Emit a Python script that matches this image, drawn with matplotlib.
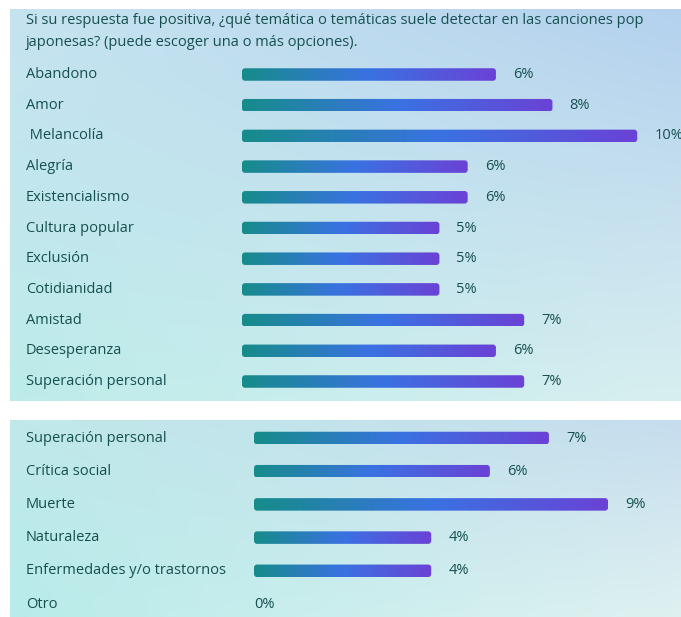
import numpy as np
import matplotlib.pyplot as plt
from matplotlib.colors import LinearSegmentedColormap, to_rgb
from matplotlib.patches import FancyBboxPatch
import matplotlib.transforms as mtransforms

plt.rcParams['font.family'] = ['Open Sans', 'DejaVu Sans']

# datos
titulo = ("Si su respuesta fue positiva, ¿qué temática o temáticas suele detectar en las canciones pop\n"
          "japonesas? (puede escoger una o más opciones).")
temas_1 = ["Abandono", "Amor", " Melancolía", "Alegría", "Existencialismo", "Cultura popular",
           "Exclusión", "Cotidianidad", "Amistad", "Desesperanza", "Superación personal"]
valores_1 = [6.38, 7.80, 9.93, 5.67, 5.67, 4.96, 4.96, 4.96, 7.09, 6.38, 7.09]
temas_2 = ["Superación personal", "Crítica social", "Muerte", "Naturaleza",
           "Enfermedades y/o trastornos", "Otro"]
valores_2 = [7.09, 5.67, 8.51, 4.26, 4.26, 0.0]

W, H = 681, 617
texto = '#15504f'
grad_barra = LinearSegmentedColormap.from_list('barra', ['#168c8a', '#3a72e2', '#6a42d6'])


def fondo(ax, c_tl, c_tr, c_bl, c_br):
    u = np.linspace(0, 1, 200)
    gx, gy = np.meshgrid(u, u)
    img = np.zeros((200, 200, 3))
    for c, w in [(c_tl, (1 - gx) * (1 - gy)), (c_tr, gx * (1 - gy)),
                 (c_bl, (1 - gx) * gy), (c_br, gx * gy)]:
        img += np.array(to_rgb(c)) * w[..., None]
    ax.imshow(img, extent=[0, 1, 0, 1], transform=ax.transAxes, aspect='auto', zorder=0)


def panel(rect_px, x0_px, px_per_pct, y0_px, row_px, temas, valores, label_px, colores):
    l, t, r, b = rect_px
    ax = fig.add_axes([l / W, 1 - b / H, (r - l) / W, (b - t) / H])
    ax.axis('off')
    fondo(ax, *colores)

    y = np.arange(len(temas))
    alto = 12.5 / row_px
    barras = ax.barh(y, valores, height=alto, color='none', edgecolor='none')
    grad = np.linspace(0, 1, 256).reshape(1, -1)
    radio = 3.0
    for barra in barras:
        x, yb = barra.get_x(), barra.get_y()
        w, h = barra.get_width(), barra.get_height()
        if w <= 0:
            continue
        clip = FancyBboxPatch((x, yb), w, h,
                              boxstyle=f"round,pad=0,rounding_size={radio / px_per_pct}",
                              mutation_aspect=px_per_pct / row_px,
                              facecolor='none', edgecolor='none')
        ax.add_patch(clip)
        im = ax.imshow(grad, cmap=grad_barra, extent=[x, x + w, yb + h, yb],
                       aspect='auto', zorder=2)
        im.set_clip_path(clip)

    tr = mtransforms.blended_transform_factory(ax.transAxes, ax.transData)
    lx = (label_px - l) / (r - l)
    for i, (tema, v) in enumerate(zip(temas, valores)):
        ax.text(lx, i, tema, transform=tr, ha='left', va='center',
                fontsize=10.5, color=texto, fontweight='medium')
        xt = v + (17 / px_per_pct if v > 0 else 0)
        ax.text(xt, i, f"{round(v)}%", ha='left', va='center',
                fontsize=10.5, color=texto, fontweight='medium')
    ax.set_xlim((l - x0_px) / px_per_pct, (r - x0_px) / px_per_pct)
    ax.set_ylim((b - y0_px) / row_px, (t - y0_px) / row_px)
    return ax


fig = plt.figure(figsize=(W / 100, H / 100), dpi=100, facecolor='white')

ax1 = panel((10, 9, 681, 401), 242, 39.8, 74.5, 30.7, temas_1, valores_1, 26,
            ('#c6e3f0', '#b4d1ee', '#bdecea', '#d8eff0'))
ax1.text((26 - 10) / 671, 1 - (13 - 9) / 392, titulo, transform=ax1.transAxes,
         ha='left', va='top', fontsize=10.5, color=texto, linespacing=1.6,
         fontweight='medium')

ax2 = panel((10, 420, 681, 617), 254, 41.6, 438, 33.2, temas_2, valores_2, 26,
            ('#c0e8ea', '#c6ddee', '#b8ecea', '#dff1f1'))

fig.savefig('out.png', dpi=100, facecolor='white')
